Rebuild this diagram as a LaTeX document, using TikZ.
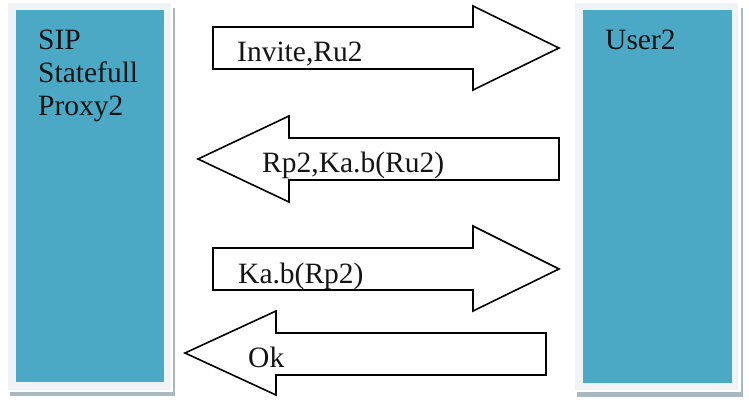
\documentclass[tikz,border=0pt]{standalone}
\usepackage{fontspec}
\setmainfont{Liberation Serif}
\definecolor{boxblue}{RGB}{75,169,197}
\definecolor{boxlight}{RGB}{240,243,245}
\definecolor{boxshadow}{RGB}{168,184,192}
\definecolor{txt}{RGB}{20,20,20}
\begin{document}
\begin{tikzpicture}[x=1pt,y=-1pt,
  arrowshape/.style={draw=black,line width=1.6pt,fill=white,line join=miter},
  lbl/.style={anchor=base west,inner sep=0pt,text=txt,font=\fontsize{29.5}{33}\selectfont}]
\useasboundingbox (0,0) rectangle (749,402);
\fill[white] (0,0) rectangle (749,402);
% left box
\fill[boxlight] (8,3) rectangle (171,390);
\fill[boxshadow] (173,8) rectangle (175,396);
\fill[boxshadow] (10,392) rectangle (175,396);
\fill[boxblue] (16,10) rectangle (164,382);
% right box
\fill[boxlight] (575,3) rectangle (738,390);
\fill[boxshadow] (741,8) rectangle (743,397);
\fill[boxshadow] (577,392) rectangle (743,397);
\fill[boxblue] (583,10) rectangle (732,383);
% box labels
\node[lbl] (sip) at (38,49) {SIP};
\node[lbl] (stf) at (38,82) {Statefull};
\node[lbl] (prx) at (38,115) {Proxy2};
\node[lbl] (usr) at (605,49) {User2};
% arrows
\draw[arrowshape] (213,27) -- (473,27) -- (473,6) -- (559,48) -- (473,90) -- (473,69) -- (213,69) -- cycle;
\draw[arrowshape] (559,138) -- (289,138) -- (289,116) -- (198,159) -- (289,202) -- (289,180) -- (559,180) -- cycle;
\draw[arrowshape] (213,248) -- (473,248) -- (473,226) -- (559,269) -- (473,311) -- (473,290) -- (213,290) -- cycle;
\draw[arrowshape] (546,333) -- (276,333) -- (276,311) -- (185,353) -- (276,395) -- (276,375) -- (546,375) -- cycle;
% arrow labels
\node[lbl] (m1) at (237,61) {Invite,Ru2};
\node[lbl] (m2) at (262,172) {Rp2,Ka.b(Ru2)};
\node[lbl] (m3) at (238,283) {Ka.b(Rp2)};
\node[lbl] (m4) at (248,367) {Ok};
\end{tikzpicture}
\end{document}
